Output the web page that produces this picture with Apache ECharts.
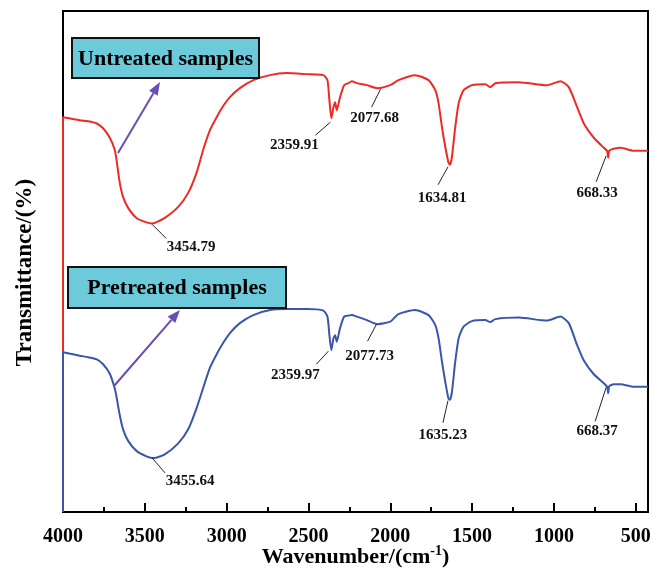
<!DOCTYPE html>
<html>
<head>
<meta charset="utf-8">
<script src="https://cdn.jsdelivr.net/npm/echarts@6/dist/echarts.min.js"></script>
<style>
  html, body { margin: 0; padding: 0; background: #fff; }
  #main { width: 662px; height: 572px; }
</style>
</head>
<body>
<div id="main"></div>
<script>
// wavenumber (cm-1)
const wavenumber = [4000, 3898, 3847, 3796, 3755, 3714, 3684, 3673, 3653, 3633, 3602, 3551, 3490, 3455, 3439, 3378, 3296, 3235, 3184, 3143,
  3102, 3061, 3030, 2980, 2919, 2837, 2735, 2633, 2510, 2409, 2384, 2372, 2360, 2347, 2337, 2327, 2307, 2282, 2256, 2235,
  2204, 2143, 2078, 2000, 1950, 1848, 1766, 1725, 1705, 1684, 1664, 1644, 1635, 1623, 1603, 1582, 1552, 1501, 1419, 1389,
  1358, 1215, 1042, 960, 909, 858, 818, 756, 695, 675, 668, 662, 634, 593, 512, 425];
// transmittance (relative, 0-100 over the plot height)
const untreated = [78.8, 78.2, 78.0, 77.6, 76.6, 74.7, 72.3, 70.3, 65.7, 62.9, 60.7, 58.7, 57.8, 57.6, 57.7, 58.7, 60.9, 63.7, 67.7, 72.3,
  76.2, 78.8, 80.6, 82.8, 84.6, 86.2, 87.2, 87.6, 87.4, 87.2, 86.2, 82.2, 78.6, 80.8, 81.8, 80.2, 82.8, 85.2, 85.6, 86.0,
  85.6, 85.2, 84.6, 85.2, 86.2, 87.2, 86.2, 84.2, 81.6, 76.8, 72.9, 69.7, 69.3, 70.9, 76.8, 81.6, 84.2, 85.2, 85.4, 84.8,
  85.6, 85.8, 85.2, 86.0, 84.8, 80.8, 77.6, 74.7, 72.7, 72.1, 70.7, 72.1, 72.5, 72.7, 72.1, 72.1];
const pretreated = [31.9, 31.2, 30.9, 30.5, 29.5, 27.6, 24.7, 23.0, 19.3, 16.5, 14.2, 12.2, 11.1, 10.8, 10.8, 11.5, 13.7, 16.5, 20.7, 24.8,
  28.8, 31.5, 33.3, 35.7, 37.7, 39.3, 40.3, 40.5, 40.5, 40.2, 39.0, 35.3, 32.3, 34.7, 35.3, 34.0, 36.7, 39.0, 39.2, 39.3,
  39.0, 38.3, 37.5, 38.0, 39.5, 40.3, 39.3, 37.3, 34.7, 30.0, 26.0, 22.6, 22.4, 24.0, 30.0, 34.7, 37.0, 38.1, 38.3, 37.9,
  38.5, 38.8, 38.2, 39.0, 37.7, 33.3, 30.3, 27.5, 25.7, 25.0, 23.7, 25.1, 25.5, 25.5, 25.0, 25.0];
// both traces start from the baseline at 4000
const untreatedStart = 0;
const pretreatedStart = 0;

const xTicks = [4000, 3500, 3000, 2500, 2000, 1500, 1000, 500];
const xMinorTicks = [3750, 3250, 2750, 2250, 1750, 1250, 750];

// peak labels
const untreatedPeaks = [3454.79, 2359.91, 2077.68, 1634.81, 668.33];
const untreatedPeakT = [57.6, 78.6, 84.6, 69.3, 70.7];
const pretreatedPeaks = [3455.64, 2359.97, 2077.73, 1635.23, 668.37];
const pretreatedPeakT = [10.8, 32.3, 37.5, 22.4, 23.7];

const FONT = "'Liberation Serif', 'Times New Roman', serif";
const RED = '#ee2a24';
const BLUE = '#3b55ad';

const chart = echarts.init(document.getElementById('main'));

const toPairs = (start, ys) => [[wavenumber[0], start]].concat(wavenumber.map((w, i) => [w, ys[i]]));

chart.setOption({
  animation: false,
  backgroundColor: '#fff',
  grid: {
    left: 63, right: 14, top: 11, bottom: 60,
    outerBoundsMode: 'none',
    containLabel: false,
    show: true, borderColor: '#000', borderWidth: 2, backgroundColor: 'transparent'
  },
  xAxis: [{
    type: 'value',
    inverse: true,
    min: 425,
    max: 4000,
    position: 'bottom',
    axisLine: { lineStyle: { color: '#000', width: 2 } },
    axisTick: { inside: true, length: 9, customValues: xTicks, lineStyle: { color: '#000', width: 2 } },
    axisLabel: {
      customValues: xTicks, margin: 15, color: '#000', fontFamily: FONT, fontWeight: 'bold', fontSize: 20,
      formatter: v => String(v)
    },
    splitLine: { show: false },
    name: '{a|Wavenumber/(cm}{s|-1}{a|)}',
    nameLocation: 'middle',
    nameGap: 32,
    nameMoveOverlap: false,
    nameTextStyle: {
      rich: {
        a: { fontFamily: FONT, fontWeight: 'bold', fontSize: 22, color: '#000', lineHeight: 26 },
        s: { fontFamily: FONT, fontWeight: 'bold', fontSize: 14, color: '#000', verticalAlign: 'top', lineHeight: 26, padding: [0, 0, 10, 0] }
      }
    }
  }, {
    type: 'value',
    inverse: true,
    min: 425,
    max: 4000,
    position: 'bottom',
    axisLine: { show: false },
    axisTick: { inside: true, length: 5, customValues: xMinorTicks, lineStyle: { color: '#000', width: 2 } },
    axisLabel: { show: false },
    splitLine: { show: false }
  }],
  yAxis: {
    type: 'value',
    min: 0,
    max: 100,
    axisLine: { show: true, lineStyle: { color: '#000', width: 2 } },
    axisTick: { show: false },
    axisLabel: { show: false },
    splitLine: { show: false },
    name: 'Transmittance/(%)',
    nameLocation: 'middle',
    nameGap: 26,
    nameTextStyle: { fontFamily: FONT, fontWeight: 'bold', fontSize: 23, color: '#000', padding: [0, 22, 0, 0] }
  },
  series: [{
    name: 'Untreated samples',
    type: 'line',
    data: toPairs(untreatedStart, untreated),
    showSymbol: false,
    clip: false,
    smooth: 0.2,
    lineStyle: { color: RED, width: 2 }
  }, {
    name: 'Pretreated samples',
    type: 'line',
    data: toPairs(pretreatedStart, pretreated),
    showSymbol: false,
    clip: false,
    smooth: 0.2,
    lineStyle: { color: BLUE, width: 2 }
  }]
});

// leader line / label offsets in px from each peak: [x0, y0, x1, y1, labelX, labelY]
const untreatedLayout = [[0, 1, 14, 15, 39, 24], [-1, 4, -16, 17, -37, 27], [3, 1, -6, 19, -3, 30], [-2, 2, -12, 20, -8, 33], [-2, -2, -12, 24, -11, 35]];
const pretreatedLayout = [[0, 0, 13, 15, 38, 23], [-3, 1, -15, 14, -36, 25], [-1, 0, -10, 17, -8, 32], [-2, 1, -7, 23, -7, 35], [-2, -6, -13, 28, -11, 38]];

const graphics = [];
function addPeaks(peaks, values, layout) {
  peaks.forEach((p, i) => {
    const pt = chart.convertToPixel({ gridIndex: 0 }, [p, values[i]]);
    const l = layout[i];
    graphics.push({
      type: 'line', silent: true, z: 10,
      shape: { x1: pt[0] + l[0], y1: pt[1] + l[1], x2: pt[0] + l[2], y2: pt[1] + l[3] },
      style: { stroke: '#222', lineWidth: 1 }
    });
    graphics.push({
      type: 'text', silent: true, z: 10,
      x: pt[0] + l[4], y: pt[1] + l[5],
      style: { text: p.toFixed(2), fill: '#111', font: 'bold 15px ' + FONT, align: 'center', verticalAlign: 'middle' }
    });
  });
}
addPeaks(untreatedPeaks, untreatedPeakT, untreatedLayout);
addPeaks(pretreatedPeaks, pretreatedPeakT, pretreatedLayout);

function addBox(text, x, y, w, h) {
  graphics.push({
    type: 'rect', silent: true, z: 10,
    shape: { x: x, y: y, width: w, height: h },
    style: { fill: '#6ccadb', stroke: '#111', lineWidth: 2 }
  });
  graphics.push({
    type: 'text', silent: true, z: 11,
    x: x + w / 2, y: y + h / 2 + 1,
    style: { text: text, fill: '#000', font: 'bold 22px ' + FONT, align: 'center', verticalAlign: 'middle' }
  });
}
addBox('Untreated samples', 72, 38, 187, 40);
addBox('Pretreated samples', 68, 267, 218, 41);

function addArrow(x0, y0, x1, y1) {
  const color = '#6a4db3';
  const ang = Math.atan2(y1 - y0, x1 - x0);
  const len = 13, half = 5;
  const bx = x1 - len * Math.cos(ang), by = y1 - len * Math.sin(ang);
  graphics.push({
    type: 'line', silent: true, z: 10,
    shape: { x1: x0, y1: y0, x2: bx, y2: by },
    style: { stroke: color, lineWidth: 2 }
  });
  graphics.push({
    type: 'polygon', silent: true, z: 10,
    shape: { points: [[x1, y1], [bx + half * Math.sin(ang), by - half * Math.cos(ang)], [bx - half * Math.sin(ang), by + half * Math.cos(ang)]] },
    style: { fill: color }
  });
}
addArrow(118, 153, 160, 82);
addArrow(114, 386, 180, 310);

chart.setOption({ graphic: graphics });
</script>
</body>
</html>
